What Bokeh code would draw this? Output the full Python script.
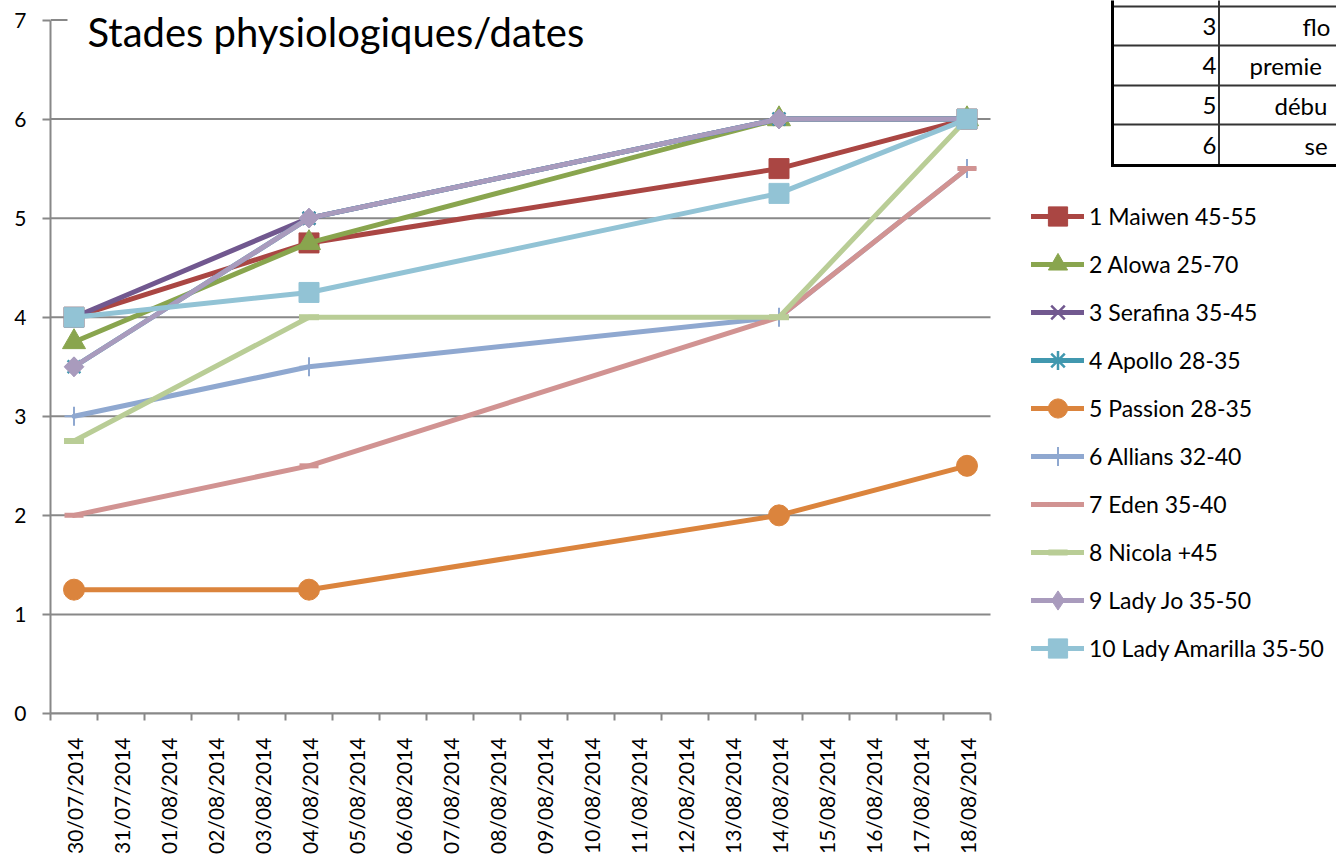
import math
from bokeh.plotting import figure
from bokeh.models import (Range1d, FixedTicker, Legend, LegendItem, Label,
                          BoxAnnotation)
from bokeh.embed import file_html
from bokeh.resources import INLINE

# ---------------- data ----------------
days = ["30/07/2014", "31/07/2014", "01/08/2014", "02/08/2014", "03/08/2014",
        "04/08/2014", "05/08/2014", "06/08/2014", "07/08/2014", "08/08/2014",
        "09/08/2014", "10/08/2014", "11/08/2014", "12/08/2014", "13/08/2014",
        "14/08/2014", "15/08/2014", "16/08/2014", "17/08/2014", "18/08/2014"]
obs_dates = ["30/07/2014", "04/08/2014", "14/08/2014", "18/08/2014"]

names = ["1 Maiwen 45-55", "2 Alowa 25-70", "3 Serafina 35-45", "4 Apollo 28-35",
         "5 Passion 28-35", "6 Allians 32-40", "7 Eden 35-40", "8 Nicola +45",
         "9 Lady Jo 35-50", "10 Lady Amarilla 35-50"]
maiwen = [4.0, 4.75, 5.5, 6.0]
alowa = [3.75, 4.75, 6.0, 6.0]
serafina = [4.0, 5.0, 6.0, 6.0]
apollo = [3.5, 5.0, 6.0, 6.0]
passion = [1.25, 1.25, 2.0, 2.5]
allians = [3.0, 3.5, 4.0, 5.5]
eden = [2.0, 2.5, 4.0, 5.5]
nicola = [2.75, 4.0, 4.0, 6.0]
lady_jo = [3.5, 5.0, 6.0, 6.0]
lady_amarilla = [4.0, 4.25, 5.25, 6.0]
series = [maiwen, alowa, serafina, apollo, passion, allians, eden, nicola,
          lady_jo, lady_amarilla]

colors = ["#AA4643", "#89A54E", "#71588F", "#4198AF", "#DB843D",
          "#8FA8D0", "#D19392", "#B9CD96", "#A99BBD", "#92C3D5"]
markers = ["square", "triangle", "x", "asterisk", "circle", "cross", "dash",
           "dash", "diamond", "square"]
marker_sizes = [20, 23, 18, 18, 21, 19, 19, 20, 19.5, 20]
marker_lw = [1, 1, 2.5, 2.5, 1, 2, 5, 6, 1, 1]

y_ticks = [0, 1, 2, 3, 4, 5, 6, 7]
table_nums = ["3", "4", "5", "6"]
table_texts = ["flo", "premie", "débu", "se"]

# ---------------- layout (pixels) ----------------
W, H = 1336, 858
LEFT = 50            # width of the y-axis panel
BOTTOM = 145         # height of the x-axis panel
PX_PER_DAY = 47.0
PX_PER_UNIT = 99.07
frame_w = W - LEFT
frame_h = H - BOTTOM
x_start = -0.5
x_end = x_start + frame_w / PX_PER_DAY
y_end = frame_h / PX_PER_UNIT


def sx(x):
    # reference-picture x -> frame screen units
    return x - 51


def sy(y):
    # reference-picture y -> frame screen units (upwards from frame bottom)
    return 714 - y


GRID = "#888888"
FONT = "Lato"

p = figure(width=W, height=H, output_backend="svg", toolbar_location=None,
           x_range=Range1d(x_start, x_end), y_range=Range1d(0, y_end),
           min_border_left=LEFT, min_border_right=0, min_border_top=0,
           min_border_bottom=BOTTOM)
p.outline_line_color = None
p.background_fill_color = "white"
p.border_fill_color = "white"

# x axis: labels at day centres, ticks at day boundaries
p.xaxis.ticker = FixedTicker(ticks=list(range(len(days))),
                             minor_ticks=[i - 0.5 for i in range(len(days) + 1)])
p.xaxis.bounds = (-0.5, len(days) - 0.5)
p.xaxis.major_label_overrides = {i: d for i, d in enumerate(days)}
p.xaxis.major_label_orientation = math.pi / 2
p.xaxis.major_tick_line_color = None
p.xaxis.major_tick_out = 0
p.xaxis.major_tick_in = 0
p.xaxis.minor_tick_out = 7
p.xaxis.minor_tick_in = 0
p.xaxis.minor_tick_line_color = GRID
p.xaxis.minor_tick_line_width = 2
p.xaxis.major_label_standoff = 17
p.xaxis.major_label_text_font = FONT
p.xaxis.major_label_text_font_size = "21px"
p.xaxis.major_label_text_color = "black"
p.xaxis.axis_line_color = GRID
p.xaxis.axis_line_width = 2
p.xgrid.visible = False

p.yaxis.ticker = FixedTicker(ticks=y_ticks, minor_ticks=[])
p.yaxis.bounds = (0, 7)
p.yaxis.major_tick_out = 8
p.yaxis.major_tick_in = 0
p.yaxis.major_tick_line_color = GRID
p.yaxis.major_tick_line_width = 2
p.yaxis.minor_tick_line_color = None
p.yaxis.major_label_standoff = 16
p.yaxis.major_label_text_font = FONT
p.yaxis.major_label_text_font_size = "21px"
p.yaxis.major_label_text_color = "black"
p.yaxis.axis_line_color = GRID
p.yaxis.axis_line_width = 2
p.ygrid.visible = False

# horizontal gridlines limited to the plot area
p.segment(x0=[-0.5] * len(y_ticks), x1=[len(days) - 0.5] * len(y_ticks),
          y0=y_ticks, y1=y_ticks, line_color=GRID, line_width=2)

xs = [days.index(d) for d in obs_dates]
items = []
for name, ys, c, m, ms, mlw in zip(names, series, colors, markers,
                                  marker_sizes, marker_lw):
    lr = p.line(xs, ys, line_color=c, line_width=5, line_join="round",
                line_cap="round")
    sr = p.scatter(xs, ys, marker=m, size=ms, fill_color=c,
                   line_color=c, line_width=mlw)
    if m == "diamond":
        # wider diamond on the plot (rotated square), covering the legend one
        p.scatter(xs, ys, marker="square", size=14, angle=math.pi / 4,
                  fill_color=c, line_color=c, line_width=1)
    items.append(LegendItem(label=name, renderers=[lr, sr]))

legend = Legend(items=items, location=(sx(1032), 41), glyph_width=53,
                glyph_height=48, spacing=0, label_standoff=5, padding=0,
                margin=0, border_line_color=None, background_fill_alpha=0,
                label_text_font=FONT, label_text_font_size="23px",
                label_text_color="black", label_height=48)
p.add_layout(legend)

# white title box hiding the top gridline
p.add_layout(BoxAnnotation(left=sx(68), right=sx(995), top=sy(14), bottom=sy(26),
                           left_units="screen", right_units="screen",
                           top_units="screen", bottom_units="screen",
                           fill_color="white", fill_alpha=1, line_color=None))
p.add_layout(Label(x=sx(88), y=sy(32), x_units="screen", y_units="screen",
                   text="Stades physiologiques/dates", text_font=FONT,
                   text_font_size="40px", text_color="black",
                   text_baseline="middle"))


# ---------------- table (top right) ----------------
def sbox(x0, x1, y0, y1, color):
    p.add_layout(BoxAnnotation(left=sx(x0), right=sx(x1), top=sy(y0), bottom=sy(y1),
                               left_units="screen", right_units="screen",
                               top_units="screen", bottom_units="screen",
                               fill_color=color, fill_alpha=1, line_color=None))


row_lines = [7, 46, 86, 125, 166]
for yl in row_lines[:-1]:
    sbox(1113, 1345, yl - 1, yl + 1, "#333333")
sbox(1218.5, 1220.5, -5, 166, "#333333")
sbox(1111.5, 1345, row_lines[-1] - 1.5, row_lines[-1] + 1.5, "black")
sbox(1111.5, 1114.5, -5, row_lines[-1] + 1.5, "black")

text_left = [1303, 1250, 1275, 1305]
for i, (n, t) in enumerate(zip(table_nums, table_texts)):
    cy = (row_lines[i] + row_lines[i + 1]) / 2
    p.add_layout(Label(x=sx(1217), y=sy(cy), x_units="screen", y_units="screen",
                       text=n, text_font=FONT, text_font_size="24px",
                       text_color="black", text_align="right",
                       text_baseline="middle"))
    p.add_layout(Label(x=sx(text_left[i]), y=sy(cy), x_units="screen",
                       y_units="screen", text=t, text_font=FONT,
                       text_font_size="24px", text_color="black",
                       text_align="left", text_baseline="middle"))

open("out.html", "w").write(file_html(p, INLINE))
